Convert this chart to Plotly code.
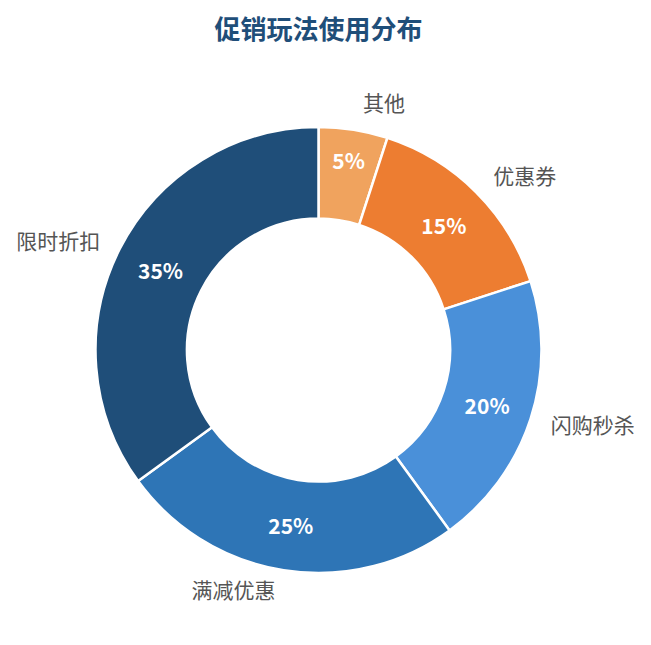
import plotly.graph_objects as go

# 促销玩法占比（从 12 点方向开始顺时针排列）
labels = ["其他", "优惠券", "闪购秒杀", "满减优惠", "限时折扣"]
values = [5, 15, 20, 25, 35]
colors = ["#f0a35e", "#ed7d31", "#4a90d9", "#2e75b6", "#1f4e79"]

FONT = "Noto Sans CJK SC"
# how far the outside names sit from the ring (pull of the invisible copy)
label_pull = [0.06, 0.06, 0.06, 0.02, 0.06]

fig = go.Figure()

# donut with white percentages inside
fig.add_trace(go.Pie(
    labels=labels, values=values, hole=0.59, sort=False,
    direction="clockwise", rotation=0, automargin=False,
    domain=dict(x=[0.0, 1.0], y=[0.0762, 0.9257]),
    marker=dict(colors=colors, line=dict(color="white", width=2.5)),
    texttemplate="%{percent:.0%}", textposition="inside",
    insidetextorientation="horizontal",
    textfont=dict(family=FONT, size=21, color="white", weight="bold"),
    hovertemplate="%{label}: %{value}%<extra></extra>",
    showlegend=False,
))

# transparent, pulled copy only for the category names outside
# (domain is larger by the pull so the ring radius stays the same)
fig.add_trace(go.Pie(
    labels=labels, values=values, hole=0.59, sort=False,
    direction="clockwise", rotation=0, pull=label_pull, automargin=False,
    domain=dict(x=[0.0, 1.0], y=[0.0507, 0.9513]),
    marker=dict(colors=["rgba(0,0,0,0)"] * len(labels)),
    textinfo="label", textposition="outside",
    outsidetextfont=dict(family=FONT, size=21, color="#555555"),
    hoverinfo="skip", showlegend=False,
))

fig.update_layout(
    width=651, height=645,
    title=dict(text="<b>促销玩法使用分布</b>", xref="paper", x=0.5, xanchor="center",
               y=0.966, yanchor="middle",
               font=dict(family=FONT, size=26, color="#1f4e79")),
    font=dict(family=FONT),
    margin=dict(l=10, r=40, t=80, b=40, autoexpand=False),
    paper_bgcolor="white",
)

fig.write_html("out.html")
